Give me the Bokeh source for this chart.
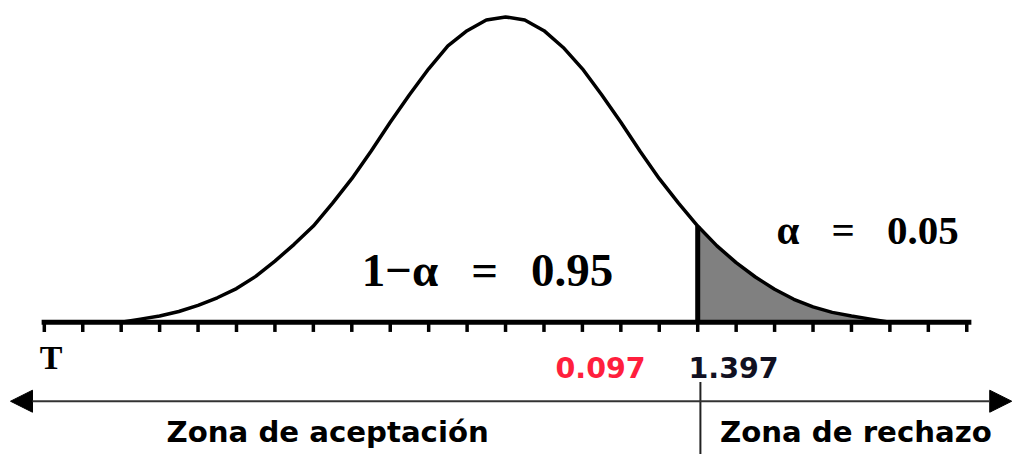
from bokeh.plotting import figure
from bokeh.models import Range1d, Arrow, NormalHead, Label
from bokeh.embed import file_html
from bokeh.resources import INLINE

# ---- data (x in tick units, y relative to peak height) ----
curve_x = [-10, -9.5, -9, -8.5, -8, -7.5, -7, -6.5, -6, -5.5, -5, -4.5, -4, -3.5,
           -3, -2.5, -2, -1.5, -1, -0.5, 0, 0.5, 1, 1.5, 2, 2.5, 3, 3.5, 4, 4.5,
           5, 5.5, 6, 6.5, 7, 7.5, 8, 8.5, 9, 9.5, 10]
curve_y = [0.0, 0.01, 0.02, 0.035, 0.055, 0.08, 0.11, 0.15, 0.20, 0.255, 0.315,
           0.39, 0.47, 0.56, 0.655, 0.745, 0.83, 0.905, 0.955, 0.99, 1.0, 0.99,
           0.955, 0.90, 0.83, 0.745, 0.655, 0.56, 0.47, 0.39, 0.315, 0.25, 0.195,
           0.148, 0.108, 0.075, 0.05, 0.032, 0.02, 0.01, 0.0]
tick_positions = list(range(-12, 13))
critical_x = 5
critical_label = "1.397"
observed_label = "0.097"
alpha_text = "\u03b1"
alpha_value = "0.05"
conf_value = "0.95"
stat_label = "T"
zone_labels = ["Zona de aceptaci\u00f3n", "Zona de rechazo"]

p = figure(width=1012, height=454, output_backend="svg", toolbar_location=None,
           x_range=Range1d(-13.14, 13.19), y_range=Range1d(-0.4335, 1.0538),
           x_axis_type=None, y_axis_type=None, min_border=0,
           outline_line_color=None, background_fill_color="white")
p.grid.visible = False

# shaded rejection area
sx = [x for x in curve_x if x >= critical_x]
sy = [y for x, y in zip(curve_x, curve_y) if x >= critical_x]
p.varea(x=sx, y1=[0] * len(sx), y2=sy, fill_color="#808080")

# curve
p.line(curve_x, curve_y, line_width=3.5, line_color="black", line_join="round")

# critical value line
crit_y = curve_y[curve_x.index(critical_x)]
p.segment(x0=[critical_x], y0=[0], x1=[critical_x], y1=[crit_y],
          line_width=5, line_color="black")

# baseline and ticks
p.segment(x0=[tick_positions[0] - 0.07], y0=[0], x1=[tick_positions[-1] + 0.12], y1=[0],
          line_width=5, line_color="black")
p.segment(x0=tick_positions, y0=[0] * len(tick_positions),
          x1=tick_positions, y1=[-0.032] * len(tick_positions),
          line_width=3.5, line_color="black")

# double-headed arrow and divider
arrow_y = -0.259
p.add_layout(Arrow(start=NormalHead(size=22, fill_color="black", line_color="black"),
                   end=NormalHead(size=22, fill_color="black", line_color="black"),
                   x_start=-12.88, y_start=arrow_y, x_end=13.17, y_end=arrow_y,
                   line_width=2, line_color="#333333"))
p.segment(x0=[critical_x + 0.07], y0=[-0.196], x1=[critical_x + 0.07], y1=[-0.44],
          line_width=2, line_color="#222222")

def lab(x, y, text, font, size, color="black", style="bold"):
    p.add_layout(Label(x=x, y=y, text=text, text_font=font, text_font_size=size,
                       text_font_style=style, text_color=color,
                       text_baseline="alphabetic", text_align="left"))

lab(-12.12, -0.116, stat_label, "Liberation Serif", "34px")
lab(1.30, -0.147, observed_label, "DejaVu Sans", "28.5px", color="#ff1f3d")
lab(4.76, -0.147, critical_label, "DejaVu Sans", "28.5px", color="#111122")
lab(-8.82, -0.359, zone_labels[0], "DejaVu Sans", "29.2px")
lab(5.58, -0.359, zone_labels[1], "DejaVu Sans", "29.2px")
sp = "\u2002\u2009"
lab(-3.74, 0.171, "1\u2212" + alpha_text + sp + "=" + sp + conf_value,
    "Liberation Serif", "47px")
sp2 = "\u2002\u2009\u200a"
lab(7.05, 0.303, alpha_text + sp2 + "=" + sp2 + alpha_value,
    "Liberation Serif", "41px")

open("out.html", "w").write(file_html(p, INLINE))
